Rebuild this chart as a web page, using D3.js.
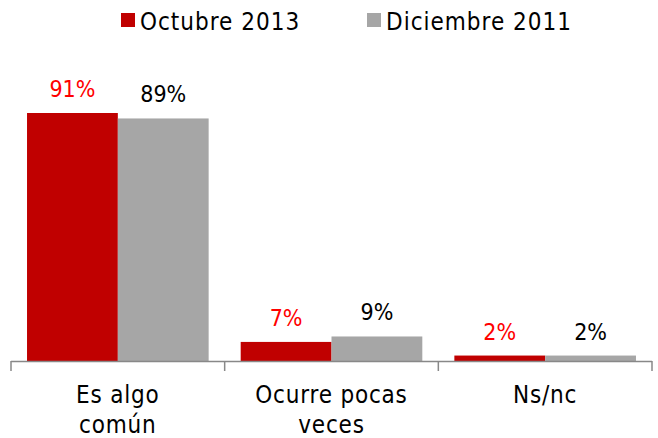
<html>
<head>
<meta charset="utf-8">
<style>
  body { margin: 0; background: #fff; }
  text { font-family: 'DejaVu Sans Condensed', 'DejaVu Sans', sans-serif; }
</style>
</head>
<body>
<div id="chart"></div>
<script src="https://d3js.org/d3.v7.min.js"></script>
<script>
const categories = [["Es algo", "común"], ["Ocurre pocas", "veces"], ["Ns/nc"]];
const seriesNames = ["Octubre 2013", "Diciembre 2011"];
const octubre2013 = [91, 7, 2];
const diciembre2011 = [89, 9, 2];

const colors = ["#C00000", "#A6A6A6"];
const labelColors = ["#FF0000", "#000000"];

const width = 658, height = 438;
const margin = {top: 113, right: 6, bottom: 77, left: 11};

const svg = d3.select("#chart").append("svg")
  .attr("width", width).attr("height", height);

const x0 = d3.scaleBand()
  .domain(d3.range(categories.length))
  .range([margin.left, width - margin.right])
  .paddingInner(0.15).paddingOuter(0.075);
const x1 = d3.scaleBand().domain([0, 1]).range([0, x0.bandwidth()]);
const y = d3.scaleLinear().domain([0, 91]).range([height - margin.bottom, margin.top]);

const series = [octubre2013, diciembre2011];
const data = [];
series.forEach((vals, s) => vals.forEach((v, i) => data.push({s, i, v})));

svg.selectAll("rect.bar").data(data).join("rect")
  .attr("class", "bar")
  .attr("x", d => x0(d.i) + x1(d.s))
  .attr("y", d => y(d.v))
  .attr("width", x1.bandwidth())
  .attr("height", d => y(0) - y(d.v))
  .attr("fill", d => colors[d.s]);

svg.selectAll("text.val").data(data).join("text")
  .attr("class", "val")
  .attr("x", d => x0(d.i) + x1(d.s) + x1.bandwidth() / 2)
  .attr("y", d => y(d.v) - 16)
  .attr("text-anchor", "middle")
  .attr("font-size", 23)
  .attr("fill", d => labelColors[d.s])
  .text(d => d.v + "%");

// axis
const base = y(0);
const edges = d3.range(categories.length + 1).map(i => margin.left + i * (width - margin.left - margin.right) / categories.length);
svg.append("line")
  .attr("x1", edges[0]).attr("x2", edges[edges.length - 1])
  .attr("y1", base + 0.5).attr("y2", base + 0.5)
  .attr("stroke", "#888").attr("stroke-width", 1.5);
svg.selectAll("line.tick").data(edges).join("line")
  .attr("class", "tick")
  .attr("x1", d => d).attr("x2", d => d)
  .attr("y1", base).attr("y2", base + 10)
  .attr("stroke", "#888").attr("stroke-width", 1.5);

svg.selectAll("text.cat").data(categories).join("text")
  .attr("class", "cat")
  .attr("text-anchor", "middle")
  .attr("font-size", 24)
  .attr("letter-spacing", 0.8)
  .attr("fill", "#000")
  .each(function(lines, i) {
    const t = d3.select(this);
    lines.forEach((l, k) => {
      t.append("tspan")
        .attr("x", x0(i) + x0.bandwidth() / 2)
        .attr("y", base + 42 + k * 30)
        .text(l);
    });
  });

// legend
const legendX = [121, 367];
seriesNames.forEach((name, s) => {
  svg.append("rect")
    .attr("x", legendX[s]).attr("y", 13)
    .attr("width", 14).attr("height", 14)
    .attr("fill", colors[s]);
  svg.append("text")
    .attr("x", legendX[s] + 19).attr("y", 30)
    .attr("font-size", 24)
    .attr("letter-spacing", 1)
    .attr("fill", "#000")
    .text(name);
});
</script>
</body>
</html>
